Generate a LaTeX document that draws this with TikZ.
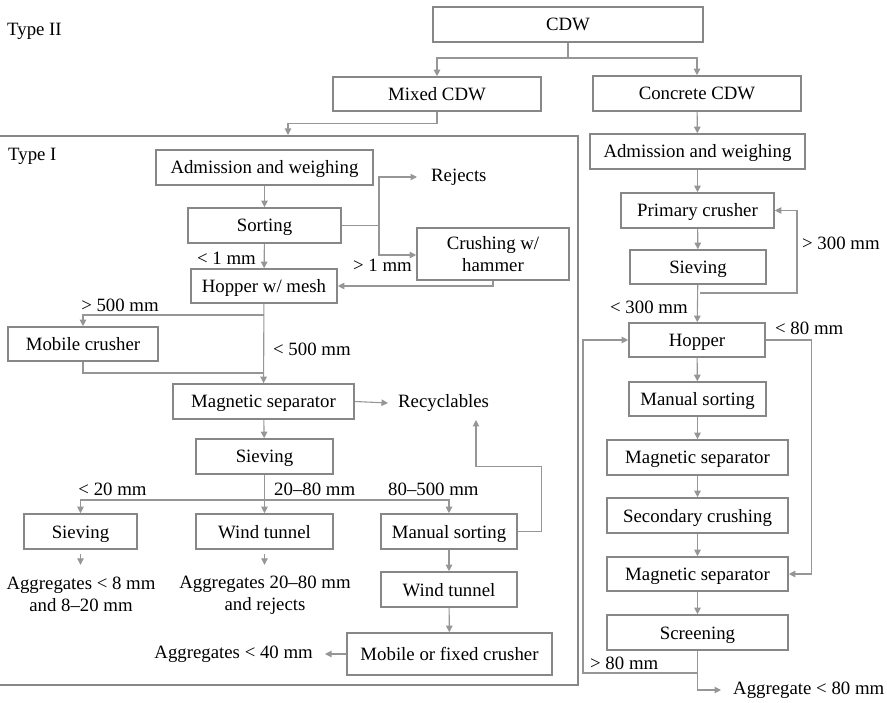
\documentclass[tikz,border=0pt]{standalone}
\usepackage{fontspec}
\setmainfont{Liberation Serif}
\usetikzlibrary{arrows.meta}
\definecolor{boxgray}{RGB}{135,135,135}
\definecolor{linegray}{RGB}{150,150,150}
\newcommand\fsz{\fontsize{18.8}{22}\selectfont}
\begin{document}
\begin{tikzpicture}[x=1pt,y=-1pt,
  boxbase/.style={draw=boxgray, line width=1.6pt, inner sep=0pt, align=center, font=\fsz},
  box/.style={boxbase, text height=15pt, text depth=2pt},
  conn/.style={draw=linegray, line width=1.1pt},
  arr/.style={conn, -{Triangle[length=6.5pt,width=6.5pt]}},
  lbl/.style={inner sep=0pt, font=\fsz, align=center},
  frameline/.style={draw=boxgray, line width=1.2pt}]
\useasboundingbox (0,0) rectangle (887,703);

% ---------- Type II level ----------
\node[lbl, anchor=west] (t2) at (7,31) {Type II};
\node[box, minimum width=270pt, minimum height=35pt] (cdw) at (568,24.5) {CDW};
\node[box, minimum width=208pt, minimum height=34pt] (mixed) at (437,94) {Mixed CDW};
\node[box, minimum width=208pt, minimum height=35pt] (concrete) at (697,93.5) {Concrete CDW};

\coordinate (j1) at (568,58);
\draw[conn] (cdw.south) -- (j1);
\draw[arr] (j1) -| (mixed.north);
\draw[arr] (j1) -| (concrete.north);

% ---------- Type I frame ----------
\draw[frameline] (0,136) -- (578,136) -- (578,685) -- (0,685);
\node[lbl, anchor=west] (t1) at (8,156) {Type I};
\coordinate (typeIin) at (288,135);
\draw[arr] (mixed.south) -- ++(0,12) -| (typeIin);

% ---------- Type I process ----------
\node[box, minimum width=217pt, minimum height=35pt] (admL) at (264.5,167.5) {Admission and weighing};
\node[box, minimum width=153pt, minimum height=35pt] (sortL) at (264.5,225.5) {Sorting};
\node[boxbase, minimum width=152pt, minimum height=52pt] (crush) at (493,254) {Crushing w/\\[0pt]hammer};
\node[box, minimum width=146pt, minimum height=34pt] (hopL) at (264,286) {Hopper w/ mesh};
\node[box, minimum width=150pt, minimum height=34pt] (mobL) at (83,344) {Mobile crusher};
\node[box, minimum width=181pt, minimum height=35pt] (magL) at (263.5,401.5) {Magnetic separator};
\node[box, minimum width=137pt, minimum height=35pt] (sievL) at (264.5,456.5) {Sieving};
\node[box, minimum width=113pt, minimum height=35pt] (sievS) at (80.5,531.5) {Sieving};
\node[box, minimum width=137pt, minimum height=35pt] (wind1) at (264.5,531.5) {Wind tunnel};
\node[box, minimum width=136pt, minimum height=35pt] (manL) at (449,531.5) {Manual sorting};
\node[box, minimum width=136pt, minimum height=35pt] (wind2) at (449,589.5) {Wind tunnel};
\node[box, minimum width=205pt, minimum height=42pt] (mobfix) at (449.5,654) {Mobile or fixed crusher};

\node[lbl, anchor=west] (rejects) at (431,177) {Rejects};
\node[lbl, anchor=west] (recyc) at (398,403) {Recyclables};
\node[lbl] (agg8) at (81,594) {Aggregates < 8 mm\\and 8–20 mm};
\node[lbl] (agg2080) at (265,595) {Aggregates 20–80 mm\\and rejects};
\node[lbl, anchor=east] (agg40) at (313,654) {Aggregates < 40 mm};

\draw[arr] (admL) -- (sortL);
\coordinate (sj) at (379,225.5);
\draw[conn] (sortL.east) -- (sj);
\draw[arr] (sj) |- ([xshift=-14pt]rejects.west);
\draw[arr] (sj) |- ([yshift=-1pt]crush.west);
\node[lbl, anchor=west] at (353,265) {> 1 mm};
\draw[arr] (crush.south) |- (hopL.east);
\draw[arr] (sortL) -- (hopL);
\node[lbl, anchor=east] at (256,258) {< 1 mm};

\draw[arr] (hopL) -- (magL);
\coordinate (hj) at (264,315);
\draw[arr] (hj) -| (mobL.north);
\node[lbl] at (120,305) {> 500 mm};
\coordinate (mj) at (264,373);
\draw[conn] (mobL.south) |- (mj);
\node[lbl, anchor=west] at (273,349) {< 500 mm};

\draw[arr] (magL.east) -- ([xshift=-10pt]recyc.west);
\draw[arr] (magL) -- (sievL);
\draw[arr] (sievL) -- (wind1);
\coordinate (sj2) at (264.5,500);
\draw[arr] (sj2) -| (sievS.north);
\draw[arr] (sj2) -| (manL.north);
\node[lbl] at (112.5,489) {< 20 mm};
\node[lbl, anchor=west] at (274,489) {20–80 mm};
\node[lbl, anchor=west] at (388,489) {80–500 mm};

\coordinate (rc) at (476,420);
\draw[arr] (manL.east) -- ++(24,0) -- ++(0,-65) -| (rc);
\draw[arr] ([yshift=-4pt]sievS.south) -- ([yshift=-15pt]sievS.south);
\draw[arr] ([yshift=-4pt]wind1.south) -- ([yshift=-15pt]wind1.south);
\draw[arr] (manL) -- (wind2);
\draw[arr] (wind2) -- (mobfix);
\draw[arr] (mobfix.west) -- ([xshift=12pt]agg40.east);

% ---------- Concrete CDW line ----------
\node[box, minimum width=215pt, minimum height=35pt] (admR) at (697.5,151.5) {Admission and weighing};
\node[box, minimum width=153pt, minimum height=35pt] (primR) at (697.5,210.5) {Primary crusher};
\node[box, minimum width=136pt, minimum height=34pt] (sievR) at (698,267) {Sieving};
\node[box, minimum width=136pt, minimum height=34pt] (hopR) at (697,340) {Hopper};
\node[box, minimum width=137pt, minimum height=34pt] (manR) at (697.5,399) {Manual sorting};
\node[box, minimum width=181pt, minimum height=35pt] (mag1R) at (697.5,457.5) {Magnetic separator};
\node[box, minimum width=181pt, minimum height=35pt] (secR) at (697.5,515.5) {Secondary crushing};
\node[box, minimum width=181pt, minimum height=34pt] (mag2R) at (697.5,574) {Magnetic separator};
\node[box, minimum width=181pt, minimum height=35pt] (scrR) at (697.5,632.5) {Screening};
\node[lbl, anchor=west] (aggR) at (733,690) {Aggregate < 80 mm};

\draw[arr] (concrete) -- (admR);
\draw[arr] (admR) -- (primR);
\draw[arr] (primR) -- (sievR);
\coordinate (fb1) at (700,293);
\draw[arr] (fb1) -- ++(97,0) |- (primR.east);
\node[lbl, anchor=west] at (802,243) {> 300 mm};
\draw[arr] (sievR) -- (hopR);
\node[lbl, anchor=west] at (610,307) {< 300 mm};
\draw[arr] (hopR) -- (manR);
\draw[arr] (manR) -- (mag1R);
\draw[arr] (mag1R) -- (secR);
\draw[arr] (secR) -- (mag2R);
\draw[arr] (mag2R) -- (scrR);
\draw[arr] (hopR.east) -- ++(46,0) |- (mag2R.east);
\node[lbl, anchor=west] at (775,328) {< 80 mm};
\coordinate (scrj) at (697.5,673);
\draw[conn] (scrR.south) -- (scrj);
\draw[arr] (scrj) -- ++(-114.5,0) |- (hopR.west);
\draw[arr] (scrj) |- ([xshift=-12pt]aggR.west);
\node[lbl, anchor=west] at (590,663) {> 80 mm};
\end{tikzpicture}
\end{document}
